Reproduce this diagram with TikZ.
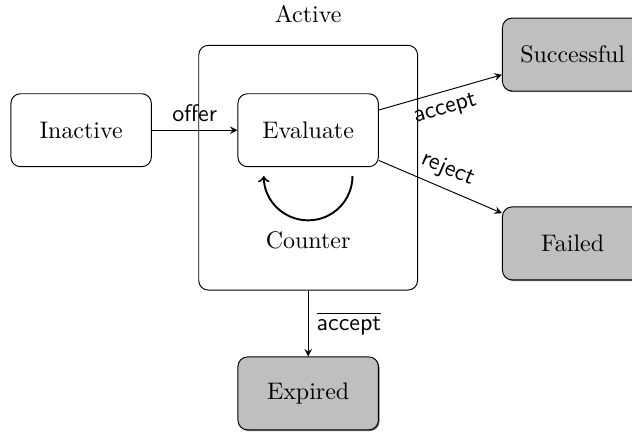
\documentclass[tikz,border=0pt]{standalone}
\usetikzlibrary{shadows}

\begin{document}
\begin{tikzpicture}[node distance=3cm, auto]
    \tikzstyle{state} = [rectangle, draw, rounded corners, text centered, minimum width=2.06cm, minimum height=1.07cm]
    \tikzstyle{final} = [state, fill=gray!50, drop shadow={shadow xshift=0.5pt, shadow yshift=-0.5pt, opacity=0.8, fill=black!70}]
    \tikzstyle{arrow} = [->,>=stealth]
    \tikzstyle{lbl} = [font=\sffamily]

    \useasboundingbox (-1.19,1.91) rectangle (8.08,-4.42);

    % States
    \node [state] (inactive) {Inactive};
    \node [state, right of=inactive, node distance=3.33cm] (eval) {Evaluate};
    \node [rectangle, draw, rounded corners, minimum width=3.21cm, minimum height=3.59cm, below of=eval, node distance=0.55cm,
           label={[label distance=2mm]above:Active}] (active) {};
    \node [below of=eval, node distance=1.62cm] (counter) {Counter};

    % Outcomes
    \node [final, right of=eval, node distance=3.88cm, yshift=1.11cm] (succ) {Successful};
    \node [final, right of=eval, node distance=3.88cm, yshift=-1.66cm] (fail) {Failed};
    \node [final, below of=eval, node distance=3.86cm] (expired) {Expired};

    % Transitions
    \draw [arrow] (inactive) -- (eval) node[midway, lbl] {offer};
    \draw [arrow] (eval) -- (succ) node[midway, sloped, swap, lbl] {accept};
    \draw [arrow] (eval) -- (fail) node[midway, sloped, lbl] {reject};
    \draw [arrow] (active) -- (expired) node[midway, lbl] {$\overline{\mbox{\sffamily accept}}$};

    % Counter loop
    \coordinate (loopstart) at ([xshift=0.65cm, yshift=-0.13cm]eval.south);
    \draw [thick, ->] (loopstart) arc (0:-180:0.65cm);
\end{tikzpicture}
\end{document}
